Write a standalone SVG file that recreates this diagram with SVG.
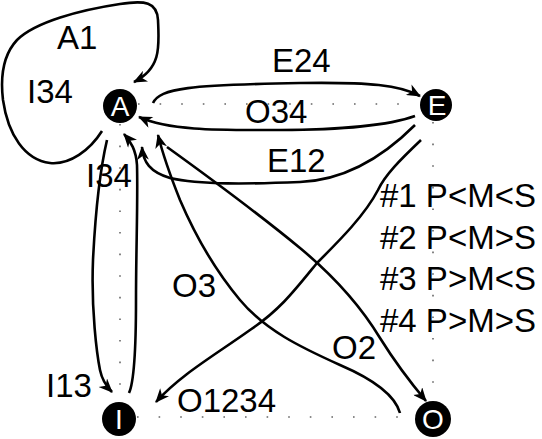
<svg xmlns="http://www.w3.org/2000/svg" width="542" height="439" viewBox="0 0 542 439">
<style>
.lbl{font-family:"Liberation Sans",Arial,sans-serif;font-size:33px;fill:#000}
.nd{fill:#000}
.nt{font-family:"Liberation Sans",Arial,sans-serif;font-size:28px;fill:#fff;text-anchor:middle}
.e{fill:none;stroke:#000;stroke-width:2.6;marker-end:url(#ah)}
.dot{fill:none;stroke:#666;stroke-width:1.6;stroke-dasharray:1.6 20}
</style>
<defs>
<marker id="ah" viewBox="0 0 14 12" refX="13" refY="6" markerWidth="15" markerHeight="12" markerUnits="userSpaceOnUse" orient="auto">
<path d="M0,0 L14,6 L0,12 L4,6 z" fill="#000"/>
</marker>
</defs>
<rect width="542" height="439" fill="#fff"/>
<g id="square">
<path class="dot" d="M138,104 H418"/>
<path class="dot" d="M120,124 V400"/>
<path class="dot" d="M137,417 H415"/>
<path class="dot" d="M433,122 V400"/>
</g>
<g id="connectors">
<path id="A1" class="e" d="M102,131 C90,150 70,165 50,163 C25,160 8,135 3,100 C0,75 3,55 17,40 C35,22 80,10 120,4 C145,0 157,2 158,20 C159,45 162,68 134,82"/>
<path id="E24" class="e" d="M153,103 C160,88 190,85 300,83 C370,82 400,85 420,96"/>
<path id="O34" class="e" d="M415,116 C390,125 340,130 280,130 C220,130 170,131 139,117"/>
<path id="E12" class="e" d="M415,125 C390,150 350,180 300,182 C250,184 200,185 170,178 C150,172 143,162 142,147"/>
<path id="O1234" class="e" d="M421,140 C400,160 385,175 378,190 C365,215 340,240 317,263 C295,290 280,310 250,330 C215,355 180,375 156,402"/>
<path id="O2" class="e" d="M167,147 C210,178 260,215 300,248 C335,277 360,305 380,338 C395,362 410,382 426,401"/>
<path id="O3" class="e" d="M400,413 C395,395 375,380 340,365 C300,347 265,330 240,300 C215,270 195,235 180,200 C170,175 163,155 158,135"/>
<path id="I13" class="e" d="M107,140 C100,170 95,220 93,260 C91,310 97,355 100,370 C102,380 106,386 112,392"/>
<path id="I34" class="e" d="M129,393 C135,380 136,340 136,300 C136,250 138,200 137,165 C136,150 131,142 124,134"/>
</g>
<g id="labels">
<text class="lbl" x="57" y="49">A1</text>
<text class="lbl" x="27" y="103">I34</text>
<text class="lbl" x="272" y="72">E24</text>
<text class="lbl" x="245" y="123">O34</text>
<text class="lbl" x="267" y="172">E12</text>
<text class="lbl" x="86" y="187">I34</text>
<text class="lbl" x="172" y="297">O3</text>
<text class="lbl" x="332" y="359">O2</text>
<text class="lbl" x="177" y="412">O1234</text>
<text class="lbl" x="46" y="397">I13</text>
<text class="lbl" x="380" y="207">#1 P&lt;M&lt;S</text>
<text class="lbl" x="380" y="249">#2 P&lt;M&gt;S</text>
<text class="lbl" x="380" y="290">#3 P&gt;M&lt;S</text>
<text class="lbl" x="380" y="332">#4 P&gt;M&gt;S</text>
</g>
<g id="node-A"><circle class="nd" cx="120" cy="106" r="17"/><text class="nt" x="120" y="116">A</text></g>
<g id="node-E"><circle class="nd" cx="436" cy="105" r="16"/><text class="nt" x="437" y="115">E</text></g>
<g id="node-I"><circle class="nd" cx="119" cy="419" r="17"/><text class="nt" x="119" y="429">I</text></g>
<g id="node-O"><circle class="nd" cx="433" cy="419" r="18"/><text class="nt" x="433" y="429">O</text></g>
</svg>
